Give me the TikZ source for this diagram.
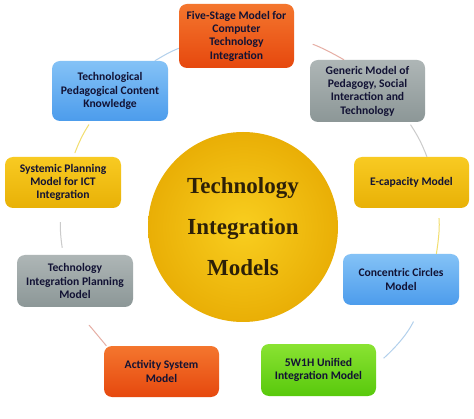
\documentclass[tikz,border=0pt]{standalone}
\usepackage{fontspec}
\setmainfont{Carlito}
\newfontfamily\hubfont{Liberation Serif}
\usepackage{xcolor}
\usepackage{tikz}
\usetikzlibrary{positioning}
\definecolor{boxtext}{RGB}{18,18,52}
\definecolor{hubtext}{RGB}{45,32,8}
\definecolor{redtop}{HTML}{F4762E}
\definecolor{redbot}{HTML}{E6480E}
\definecolor{bluetop}{HTML}{84C2F6}
\definecolor{bluebot}{HTML}{4C9CEC}
\definecolor{graytop}{HTML}{AEB6B6}
\definecolor{graybot}{HTML}{8C9797}
\definecolor{goldtop}{HTML}{F8CA22}
\definecolor{goldbot}{HTML}{E8B106}
\definecolor{greentop}{HTML}{8AE332}
\definecolor{greenbot}{HTML}{58C90C}
\definecolor{lred}{HTML}{E6AEA4}
\definecolor{lblue}{HTML}{B2D0EC}
\definecolor{lgray}{HTML}{CBCBCB}
\definecolor{lgold}{HTML}{F2DE6E}
\definecolor{lgreen}{HTML}{C6E4B2}
\tikzset {
  % rounded model box
  model/.style = {rounded corners=8pt, minimum width=115pt, align=center,
    inner sep=2pt, text=boxtext, font=\bfseries\fontsize{11.6}{13.3}\selectfont},
  % box colours
  redbox/.style={top color=redtop, bottom color=redbot},
  bluebox/.style={top color=bluetop, bottom color=bluebot},
  graybox/.style={top color=graytop, bottom color=graybot},
  goldbox/.style={top color=goldtop, bottom color=goldbot},
  greenbox/.style={top color=greentop, bottom color=greenbot},
  % centre circle
  hub/.style={circle, minimum size=190pt, inner color=goldtop!92!yellow,
    outer color=goldbot!95!orange, text=hubtext, align=center,
    font=\hubfont\bfseries\fontsize{23}{41}\selectfont},
  % ring pieces between the boxes
  link/.style={line width=1pt},
}
\begin{document}
\begin{tikzpicture}[x=1pt, y=1pt]
      \useasboundingbox (0,0) rectangle (474,418);
      \fill[white] (0,0) rectangle (474,418);

      \node[hub] (c) at (243,191) {Technology\\Integration\\Models};

      \node[model, redbox, minimum height=64pt] (five) at (236.5,382)
        {Five-Stage Model for\\Computer\\Technology\\Integration};
      \node[model, graybox, minimum height=62pt] (generic) at (367.5,327)
        {Generic Model of\\Pedagogy, Social\\Interaction and\\Technology};
      \node[model, goldbox, minimum height=51pt] (ecap) at (411.5,235.5)
        {E-capacity Model};
      \node[model, bluebox, minimum height=51pt, minimum width=116pt] (conc) at (401,138.5)
        {Concentric Circles\\Model};
      \node[model, greenbox, minimum height=52pt] (wh) at (318.5,48)
        {5W1H Unified\\Integration Model};
      \node[model, redbox, minimum height=51pt] (act) at (161.5,46.5)
        {Activity System\\Model};
      \node[model, graybox, minimum height=52pt, minimum width=116pt] (tip) at (75,137)
        {Technology\\Integration Planning\\Model};
      \node[model, goldbox, minimum height=51pt, minimum width=116pt] (spm) at (63,235.5)
        {Systemic Planning\\Model for ICT\\Integration};
      \node[model, bluebox, minimum height=60pt, minimum width=116pt] (tpack) at (110,327)
        {Technological\\Pedagogical Content\\Knowledge};

      \draw [link, lblue] (five.192) to[out=202, in=30] (tpack.34);
      \draw [link, lgold, shorten <=4pt, shorten >=4pt] (tpack.238) to[out=237, in=69] (spm.68);
      \draw [link, lgray, shorten <=14pt, shorten >=7pt] (spm.267) to[out=265, in=99] (tip.114);
      \draw [link, lred, shorten <=20pt] (tip.281) to[out=296, in=130] (act.155);
      \draw [link, lgreen, shorten <=58pt, shorten >=58pt] (act.296) to[out=336, in=205] (wh.291);
      \draw [link, lblue, shorten <=10pt, shorten >=18pt] (wh.5) to[out=42, in=245] (conc.308);
      \draw [link, lgold, shorten >=10pt] (conc.36) to[out=81, in=275] (ecap.316);
      \draw [link, lgray, shorten >=3pt] (ecap.59) to[out=111, in=303] (generic.323);
      \draw [link, lred, shorten >=19pt] (generic.127) to[out=150, in=347] (five.356);
    \end{tikzpicture}
\end{document}
